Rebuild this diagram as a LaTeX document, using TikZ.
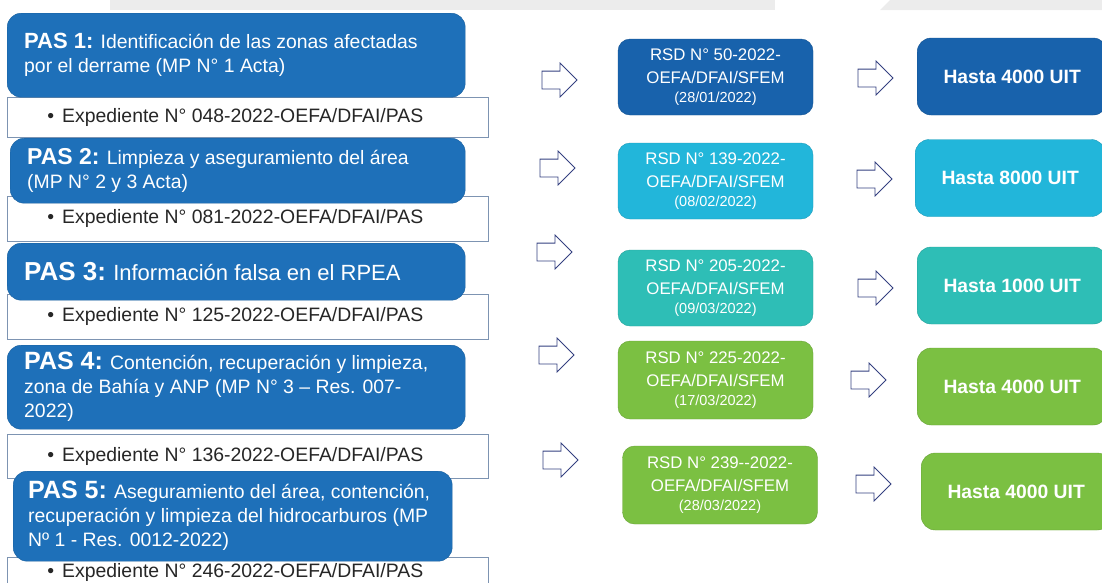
\documentclass[tikz,border=0pt]{standalone}
\usepackage{fontspec}
\setmainfont{Liberation Sans}
\usetikzlibrary{shapes.arrows,positioning}
\definecolor{pasblue}{RGB}{30,112,185}
\definecolor{rsdblue}{RGB}{24,98,172}
\definecolor{rsdcyan}{RGB}{34,182,218}
\definecolor{rsdteal}{RGB}{46,190,182}
\definecolor{rsdgreen}{RGB}{123,192,66}
\definecolor{arrowline}{RGB}{52,64,128}
\definecolor{expline}{RGB}{125,148,178}
\definecolor{bandgray}{RGB}{236,236,236}
\newcommand{\bodyfont}{\fontsize{19.4}{24}\selectfont}
\newcommand{\rsdfont}{\fontsize{16.8}{23}\selectfont}
\newcommand{\uitfont}{\fontsize{19.3}{23}\selectfont\bfseries}
\newcommand{\pas}[2]{{\fontsize{#1}{24}\selectfont\bfseries PAS #2:}}
\newcommand{\fecha}[1]{\\[-4pt]{\fontsize{14.5}{17}\selectfont (#1)}}
\tikzset{
    pasbox/.style = {draw=pasblue!85!black, fill=pasblue, rectangle,
        rounded corners=14, anchor=north west, inner xsep=17, inner ysep=0,
        text=white, align=flush left, font=\bodyfont},
    expbox/.style = {draw=expline, fill=white, rectangle, line width=0.8,
        anchor=north west, text width=401, inner xsep=40, inner ysep=0,
        align=flush left, text=black!85, font=\bodyfont},
    rsdbox/.style = {draw=#1!85!black, fill=#1, rectangle, rounded corners=12,
        minimum width=195, minimum height=76, align=center, text=white, font=\rsdfont},
    uitbox/.style = {draw=#1!85!black, fill=#1, rectangle, rounded corners=14,
        anchor=west, minimum width=190, minimum height=77, text=white, font=\uitfont},
    hollow/.style = {single arrow, draw=arrowline, fill=white, line width=0.8,
        minimum height=35, inner xsep=0, inner ysep=8.5, single arrow head extend=8}
}
\begin{document}
\begin{tikzpicture}[x=1pt, y=-1pt]
    \useasboundingbox (0,0) rectangle (1102,582);
    \clip (0,0) rectangle (1102,582);
    % faint band at the top
    \fill[bandgray] (110,0) rectangle (775,10);
    \fill[bandgray] (890,0) -- (1102,0) -- (1102,10) -- (880,10) -- cycle;
    % expedientes
    \node [expbox, minimum height=40] (exp1) at (7,97) {\textbullet\hspace{8pt}Expediente N° 048-2022-OEFA/DFAI/PAS};
    \node [expbox, minimum height=45] (exp2) at (7,196) {\textbullet\hspace{8pt}Expediente N° 081-2022-OEFA/DFAI/PAS};
    \node [expbox, minimum height=45] (exp3) at (7,294) {\textbullet\hspace{8pt}Expediente N° 125-2022-OEFA/DFAI/PAS};
    \node [expbox, minimum height=44] (exp4) at (7,434) {\textbullet\hspace{8pt}Expediente N° 136-2022-OEFA/DFAI/PAS};
    \node [expbox, minimum height=31] (exp5) at (7,557) {\textbullet\hspace{8pt}Expediente N° 246-2022-OEFA/DFAI/PAS};
    % procedimientos
    \node [pasbox, text width=424, minimum height=84] (pas1) at (7,13)
        {\pas{22}{1} Identificación de las zonas afectadas\\por el derrame (MP N° 1 Acta)};
    \node [pasbox, text width=421, minimum height=65] (pas2) at (10,138)
        {\pas{23}{2} Limpieza y aseguramiento del área\\(MP N° 2 y 3 Acta)};
    \node [pasbox, text width=424, minimum height=57] (pas3) at (7,243)
        {\pas{26}{3} {\fontsize{22}{24}\selectfont Información falsa en el RPEA}};
    \node [pasbox, text width=424, minimum height=84] (pas4) at (7,345)
        {\pas{25}{4} Contención, recuperación y limpieza,\\zona de Bahía y ANP (MP N° 3 – Res. 007-\\2022)};
    \node [pasbox, text width=409, inner xsep=15, minimum height=90] (pas5) at (13,471)
        {\pas{25}{5} Aseguramiento del área, contención,\\recuperación y limpieza del hidrocarburos (MP\\Nº 1 - Res. 0012-2022)};
    % resoluciones
    \node [rsdbox=rsdblue] (rsd1) at (715.5,77) {RSD N° 50-2022-\\OEFA/DFAI/SFEM\fecha{28/01/2022}};
    \node [rsdbox=rsdcyan] (rsd2) at (715.5,181) {RSD N° 139-2022-\\OEFA/DFAI/SFEM\fecha{08/02/2022}};
    \node [rsdbox=rsdteal] (rsd3) at (715.5,288) {RSD N° 205-2022-\\OEFA/DFAI/SFEM\fecha{09/03/2022}};
    \node [rsdbox=rsdgreen, minimum height=78] (rsd4) at (715.5,380) {RSD N° 225-2022-\\OEFA/DFAI/SFEM\fecha{17/03/2022}};
    \node [rsdbox=rsdgreen, minimum height=78] (rsd5) at (720,485) {RSD N° 239-{}-2022-\\OEFA/DFAI/SFEM\fecha{28/03/2022}};
    % multas
    \node [uitbox=rsdblue] (uit1) at (917,76.5) {Hasta 4000 UIT};
    \node [uitbox=rsdcyan] (uit2) at (915,178) {Hasta 8000 UIT};
    \node [uitbox=rsdteal] (uit3) at (917,285.5) {Hasta 1000 UIT};
    \node [uitbox=rsdgreen] (uit4) at (917,386.5) {Hasta 4000 UIT};
    \node [uitbox=rsdgreen] (uit5) at (921,491.5) {Hasta 4000 UIT};
    % flechas
    \node [hollow] (a1) at (555,80) {};
    \node [hollow] (a2) at (553,168) {};
    \node [hollow] (a3) at (550,252) {};
    \node [hollow] (a4) at (552,355) {};
    \node [hollow] (a5) at (556,460) {};
    \node [hollow] (b1) at (871,78) {};
    \node [hollow] (b2) at (870,179) {};
    \node [hollow] (b3) at (871,288) {};
    \node [hollow] (b4) at (864,380) {};
    \node [hollow] (b5) at (869,484) {};
\end{tikzpicture}
\end{document}
